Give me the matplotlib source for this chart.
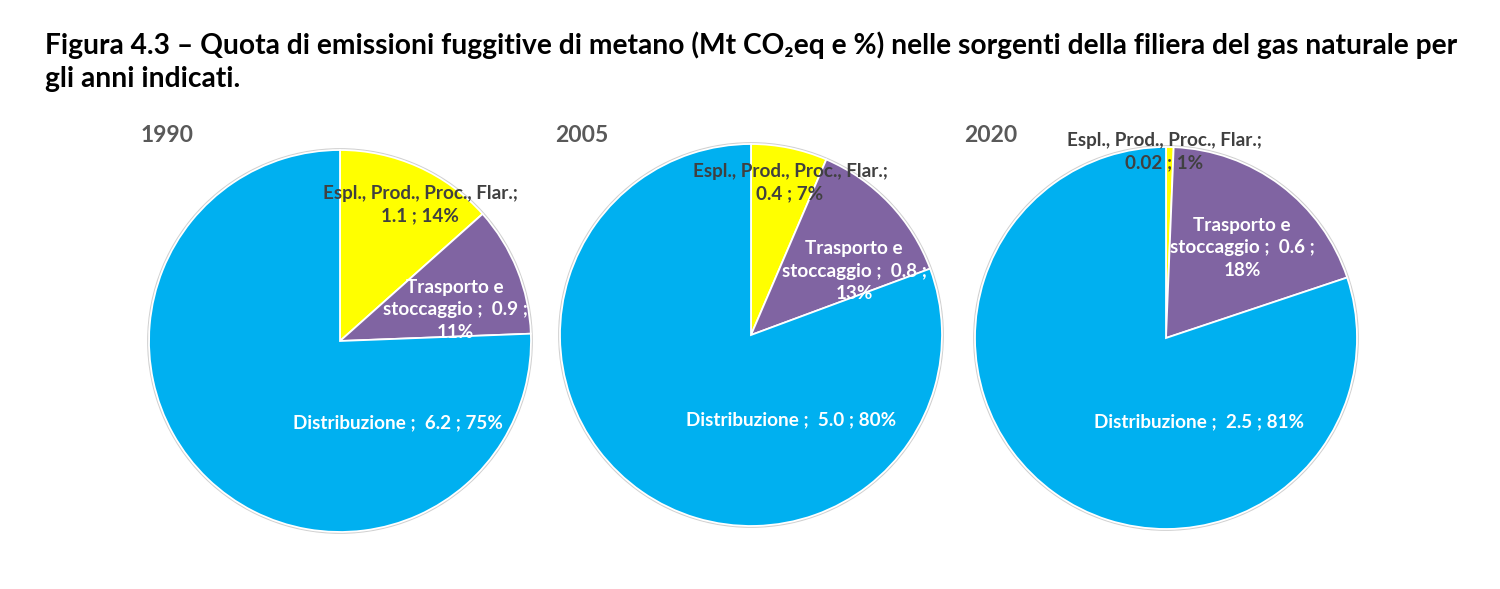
import matplotlib
matplotlib.use('Agg')
import matplotlib.pyplot as plt
from matplotlib.patches import Circle

# ---------------- data ----------------
years = ['1990', '2005', '2020']
categories = ['Espl., Prod., Proc., Flar.', 'Trasporto e stoccaggio', 'Distribuzione']
values_1990 = [1.1, 0.9, 6.2]
values_2005 = [0.4, 0.8, 5.0]
values_2020 = [0.02, 0.6, 2.5]
pct_1990 = ['14%', '11%', '75%']
pct_2005 = ['7%', '13%', '80%']
pct_2020 = ['1%', '18%', '81%']
value_text_1990 = ['1.1', '0.9', '6.2']
value_text_2005 = ['0.4', '0.8', '5.0']
value_text_2020 = ['0.02', '0.6', '2.5']

title_line1 = ('Figura 4.3 \u2013 Quota di emissioni fuggitive di metano (Mt CO\u2082eq e %) '
               'nelle sorgenti della filiera del gas naturale per')
title_line2 = 'gli anni indicati.'

colors = ['#FFFF00', '#8064A2', '#00B0F0']
label_colors = ['#404040', 'white', 'white']

# ---------------- layout ----------------
W, H = 1500, 589
fig = plt.figure(figsize=(W / 100, H / 100), dpi=100)
fig.patch.set_facecolor('white')
renderer = fig.canvas.get_renderer()
FAM = ['Lato', 'DejaVu Sans']


def fit_size(s, target_px, base=20.0):
    t = fig.text(0, 0, s, fontsize=base, family=FAM, weight='bold')
    w = t.get_window_extent(renderer).width
    t.remove()
    return base * target_px / w


def fx(x):
    return x / W


def fy(y):
    return 1 - y / H


# title
ts = fit_size(title_line1, 1410)
fig.text(fx(45), fy(54), title_line1, fontsize=ts, family=FAM, weight='bold',
         color='black', ha='left', va='baseline')
fig.text(fx(45), fy(87), title_line2, fontsize=ts, family=FAM, weight='bold',
         color='black', ha='left', va='baseline')

ys = fit_size('1990', 53)
ls = fit_size('Espl., Prod., Proc., Flar.;', 196)

R = 191
centers = [(340, 341), (751, 335), (1166, 338)]
year_pos = [(167, 136), (582, 135), (991, 135)]
# label centre offsets (pixels from pie centre) for each slice
label_off = [
    [(80, -136), (115, -31), (58, 82)],
    [(39, -152), (103, -64), (40, 85)],
    [(-2, -186), (76, -90), (33, 84)],
]

all_values = [values_1990, values_2005, values_2020]
all_pct = [pct_1990, pct_2005, pct_2020]
all_vtxt = [value_text_1990, value_text_2005, value_text_2020]

for i, yr in enumerate(years):
    cx, cy = centers[i]
    ax = fig.add_axes([fx(cx - R), (H - cy - R) / H, 2 * R / W, 2 * R / H])
    ax.add_patch(Circle((0, 0), 1.004, facecolor='none', edgecolor='#D0D0D0',
                        linewidth=1.6, zorder=0, clip_on=False))
    ax.pie(all_values[i], colors=colors, startangle=90, counterclock=False,
           radius=1, wedgeprops=dict(edgecolor='white', linewidth=1.3, clip_on=False))
    ax.set_xlim(-1, 1)
    ax.set_ylim(-1, 1)
    ax.set_aspect('equal')
    ax.axis('off')
    vt = all_vtxt[i]
    pc = all_pct[i]
    texts = [
        f'{categories[0]};\n{vt[0]} ; {pc[0]}',
        f'Trasporto e\nstoccaggio ;  {vt[1]} ;\n{pc[1]}',
        f'{categories[2]} ;  {vt[2]} ; {pc[2]}',
    ]
    for j in range(3):
        dx, dy = label_off[i][j]
        ax.text(dx / R, -dy / R, texts[j], fontsize=ls, family=FAM,
                weight='bold', color=label_colors[j], ha='center', va='center',
                multialignment='center', linespacing=1.38, zorder=5, clip_on=False)
    yx, yy = year_pos[i]
    fig.text(fx(yx), fy(yy), yr, fontsize=ys, family=FAM, weight='bold',
             color='#595959', ha='center', va='center')

fig.savefig('out.png', dpi=100, facecolor='white')
